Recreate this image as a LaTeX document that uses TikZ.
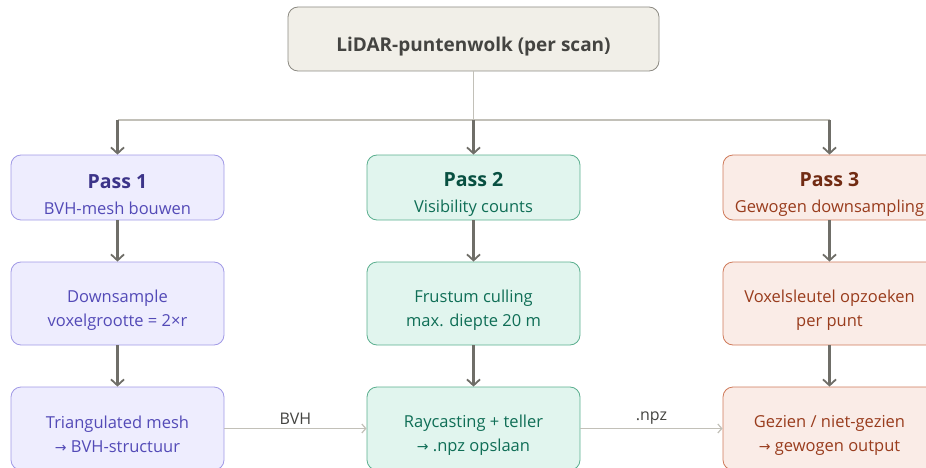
\documentclass[tikz,border=0pt]{standalone}
\usepackage{fontspec}
\setmainfont{Open Sans}
\newfontfamily\arrowfont{DejaVu Sans}
\newcommand{\toarrow}{{\arrowfont\fontsize{14}{16}\selectfont →}}
\newcommand{\padtop}[1]{\rule{0pt}{#1pt}}
\usetikzlibrary{arrows.meta}
\definecolor{srcfill}{HTML}{F1EFE8}
\definecolor{srcdraw}{HTML}{8C8A82}
\definecolor{srctext}{HTML}{444441}
\definecolor{pafill}{HTML}{EEEDFE}
\definecolor{padraw}{HTML}{A19AE6}
\definecolor{patitle}{HTML}{3C3489}
\definecolor{patext}{HTML}{534AB7}
\definecolor{pbfill}{HTML}{E1F5EE}
\definecolor{pbdraw}{HTML}{5BAF8F}
\definecolor{pbtitle}{HTML}{085041}
\definecolor{pbtext}{HTML}{0F6E56}
\definecolor{pcfill}{HTML}{FAECE7}
\definecolor{pcdraw}{HTML}{CF7A5A}
\definecolor{pctitle}{HTML}{712B13}
\definecolor{pctext}{HTML}{993C1D}
\definecolor{flowgray}{HTML}{6F6E68}
\definecolor{buslight}{HTML}{C2C0B8}
\begin{document}
\begin{tikzpicture}[x=1pt, y=-1pt,
  box/.style={draw, rounded corners=10pt, line width=0.8pt, minimum width=213pt,
    align=center, inner sep=0pt, font=\fontsize{16.5}{24}\selectfont},
  headbox/.style={box, minimum height=65pt, font=\fontsize{16.5}{26}\selectfont},
  stepbox/.style={box, minimum height=83pt},
  lilac/.style={fill=pafill, draw=padraw, text=patext},
  mint/.style={fill=pbfill, draw=pbdraw, text=pbtext},
  peach/.style={fill=pcfill, draw=pcdraw, text=pctext},
  flow/.style={draw=flowgray, line width=2.1pt, -{Straight Barb[length=6pt, width=13pt, line width=1.8pt]}},
  feed/.style={draw=buslight, line width=1.2pt, -{Straight Barb[length=4pt, width=9pt]}},
  bus/.style={draw=buslight, line width=1.1pt},
  lbl/.style={font=\fontsize{16}{18}\selectfont, text=srctext}]
  \useasboundingbox (0,0) rectangle (926,468);
  \clip (0,0) rectangle (926,468);
  % Input
  \node[draw=srcdraw, fill=srcfill, rounded corners=10pt, line width=0.8pt,
    minimum width=371pt, minimum height=64pt, text=srctext, inner sep=0pt,
    font=\fontsize{19}{22}\selectfont\bfseries] (src) at (473.5,39) {\padtop{30}LiDAR-puntenwolk (per scan)};
  % Pass headers
  \node[headbox, lilac] (pa) at (117.5,187.5) {\padtop{28}{\fontsize{19.5}{26}\selectfont\bfseries\color{patitle}Pass 1}\\BVH-mesh bouwen};
  \node[headbox, mint]  (pb) at (473.5,187.5) {\padtop{28}{\fontsize{19.5}{26}\selectfont\bfseries\color{pbtitle}Pass 2}\\Visibility counts};
  \node[headbox, peach] (pc) at (829.5,187.5) {\padtop{28}{\fontsize{19.5}{26}\selectfont\bfseries\color{pctitle}Pass 3}\\Gewogen downsampling};
  % Middle steps
  \node[stepbox, lilac] (paa) at (117.5,303.5) {\padtop{25}Downsample\\voxelgrootte = 2×r};
  \node[stepbox, mint]  (pba) at (473.5,303.5) {\padtop{25}Frustum culling\\max. diepte 20 m};
  \node[stepbox, peach] (pca) at (829.5,303.5) {\padtop{25}Voxelsleutel opzoeken\\per punt};
  % Final steps
  \node[stepbox, lilac] (pab) at (117.5,428.5) {\padtop{25}Triangulated mesh\\\toarrow{} BVH-structuur};
  \node[stepbox, mint]  (pbb) at (473.5,428.5) {\padtop{25}Raycasting + teller\\\toarrow{} .npz opslaan};
  \node[stepbox, peach] (pcb) at (829.5,428.5) {\padtop{25}Gezien / niet-gezien\\\toarrow{} gewogen output};
  % Distribution bus
  \coordinate (busa) at (pa.north |- 0,120);
  \coordinate (busb) at (pb.north |- 0,120);
  \coordinate (busc) at (pc.north |- 0,120);
  \draw[bus] (src) -- (busb);
  \draw[bus] (busa) -- (busc);
  \draw[flow] (busa) -- (pa);
  \draw[flow] (busb) -- (pb);
  \draw[flow] (busc) -- (pc);
  % Within each pass
  \draw[flow] (pa) -- (paa);
  \draw[flow] (paa) -- (pab);
  \draw[flow] (pb) -- (pba);
  \draw[flow] (pba) -- (pbb);
  \draw[flow] (pc) -- (pca);
  \draw[flow] (pca) -- (pcb);
  % Hand-over between passes
  \draw[feed] (pab) -- node[lbl, above=0pt] (bvh) {BVH} (pbb);
  \draw[feed] (pbb) -- node[lbl, above=0pt] (npz) {.npz} (pcb);
\end{tikzpicture}
\end{document}
